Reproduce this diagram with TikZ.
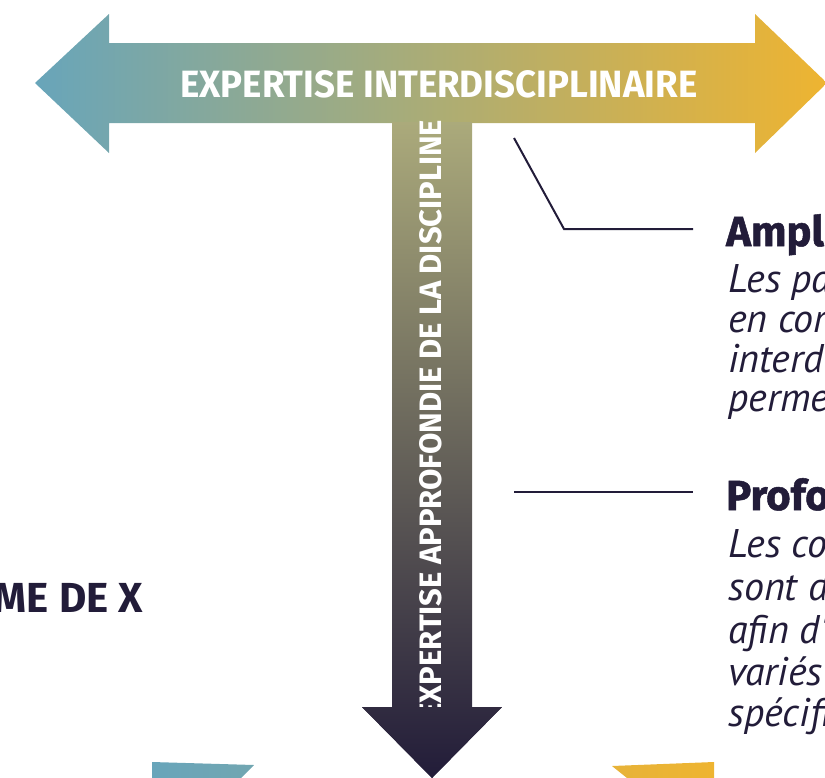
\documentclass[tikz,border=0pt]{standalone}
\usepackage{fontspec}
\usepackage{graphicx}
\setmainfont{Fira Sans}
\newfontfamily\bodyfont{PT Sans}
\newfontfamily\heavyfont[FakeBold=1.2]{Fira Sans}
\definecolor{navyA}{HTML}{221C39}
\definecolor{tealA}{HTML}{68A5BA}
\definecolor{oliveA}{HTML}{A9AB7E}
\definecolor{goldA}{HTML}{EEB431}
\definecolor{oliveV}{HTML}{ABAA7B}
\definecolor{midV}{HTML}{7E7966}
\tikzset{
  leader/.style={draw=navyA, line width=2pt},
  headtext/.style={anchor=base west, inner sep=0pt, text=navyA, font=\heavyfont\bfseries\fontsize{42}{44}\selectfont},
  bodytext/.style={anchor=base west, inner sep=0pt, text=navyA, font=\bodyfont\itshape\fontsize{40}{42}\selectfont},
  vshade/.style={top color=oliveV, middle color=midV, bottom color=navyA}
}
\begin{document}
\begin{tikzpicture}[x=1pt,y=-1pt]
\useasboundingbox (0,0) rectangle (825,777);
% horizontal double arrow
\shade[left color=tealA, middle color=oliveA, right color=goldA]
  (35,83) -- (109,14) -- (109,43) -- (755,43) -- (755,14) -- (827,83)
  -- (755,153) -- (755,123) -- (109,123) -- (109,153) -- cycle;
% vertical arrow (shaft + head)
\begin{scope}
  \clip (392,122) -- (472,122) -- (472,707) -- (502,707) -- (432,778)
    -- (362,707) -- (392,707) -- cycle;
  \shade[vshade] (362,122) rectangle (502,778);
\end{scope}
% labels on the arrows
\node[anchor=south west, inner sep=0pt, text=white] (hlabel) at (180,98)
  {\resizebox{517pt}{27pt}{\bfseries EXPERTISE INTERDISCIPLINAIRE}};
\node[rotate=90, anchor=south west, inner sep=0pt, text=white] (vlabel) at (442,720)
  {\resizebox{600pt}{22pt}{\bfseries EXPERTISE APPROFONDIE DE LA DISCIPLINE}};
% arrow head drawn over the start of the vertical label
\begin{scope}
  \clip (362,707) -- (502,707) -- (432,778) -- cycle;
  \shade[vshade] (362,122) rectangle (502,778);
\end{scope}
% leaders
\coordinate (a1) at (514,138);
\coordinate (a2) at (564,229);
\coordinate (a3) at (693,229);
\draw[leader] (a1) -- (a2) -- (a3);
\coordinate (p1) at (514,492);
\coordinate (p2) at (693,492);
\draw[leader] (p1) -- (p2);
% right texts
\node[headtext] (amp) at (726,246) {Ampl};
\node[bodytext] (amp1) at (728,292) {Les pa};
\node[bodytext] (amp2) at (728,332) {en cor};
\node[bodytext] (amp3) at (728,372) {interdi};
\node[bodytext] (amp4) at (728,411) {perme};
\node[headtext] (pro) at (726,510) {Profo};
\node[bodytext] (pro1) at (728,557) {Les co};
\node[bodytext] (pro2) at (728,600) {sont d};
\node[bodytext] (pro3) at (728,643) {afin d'};
\node[bodytext] (pro4) at (728,685) {variés};
\node[bodytext] (pro5) at (728,726) {spécifi};
% left text
\node[anchor=base east, inner sep=0pt, text=navyA, font=\bfseries\fontsize{42}{44}\selectfont] (me) at (143,612) {ME DE X};
% bottom shapes
\shade[left color=tealA, right color=tealA!85!oliveA] (152,762) -- (254,765) -- (241,778) -- (152,778) -- cycle;
\shade[left color=goldA!90!oliveA, right color=goldA] (612,766) -- (714,762) -- (714,778) -- (627,778) -- cycle;
\end{tikzpicture}
\end{document}
